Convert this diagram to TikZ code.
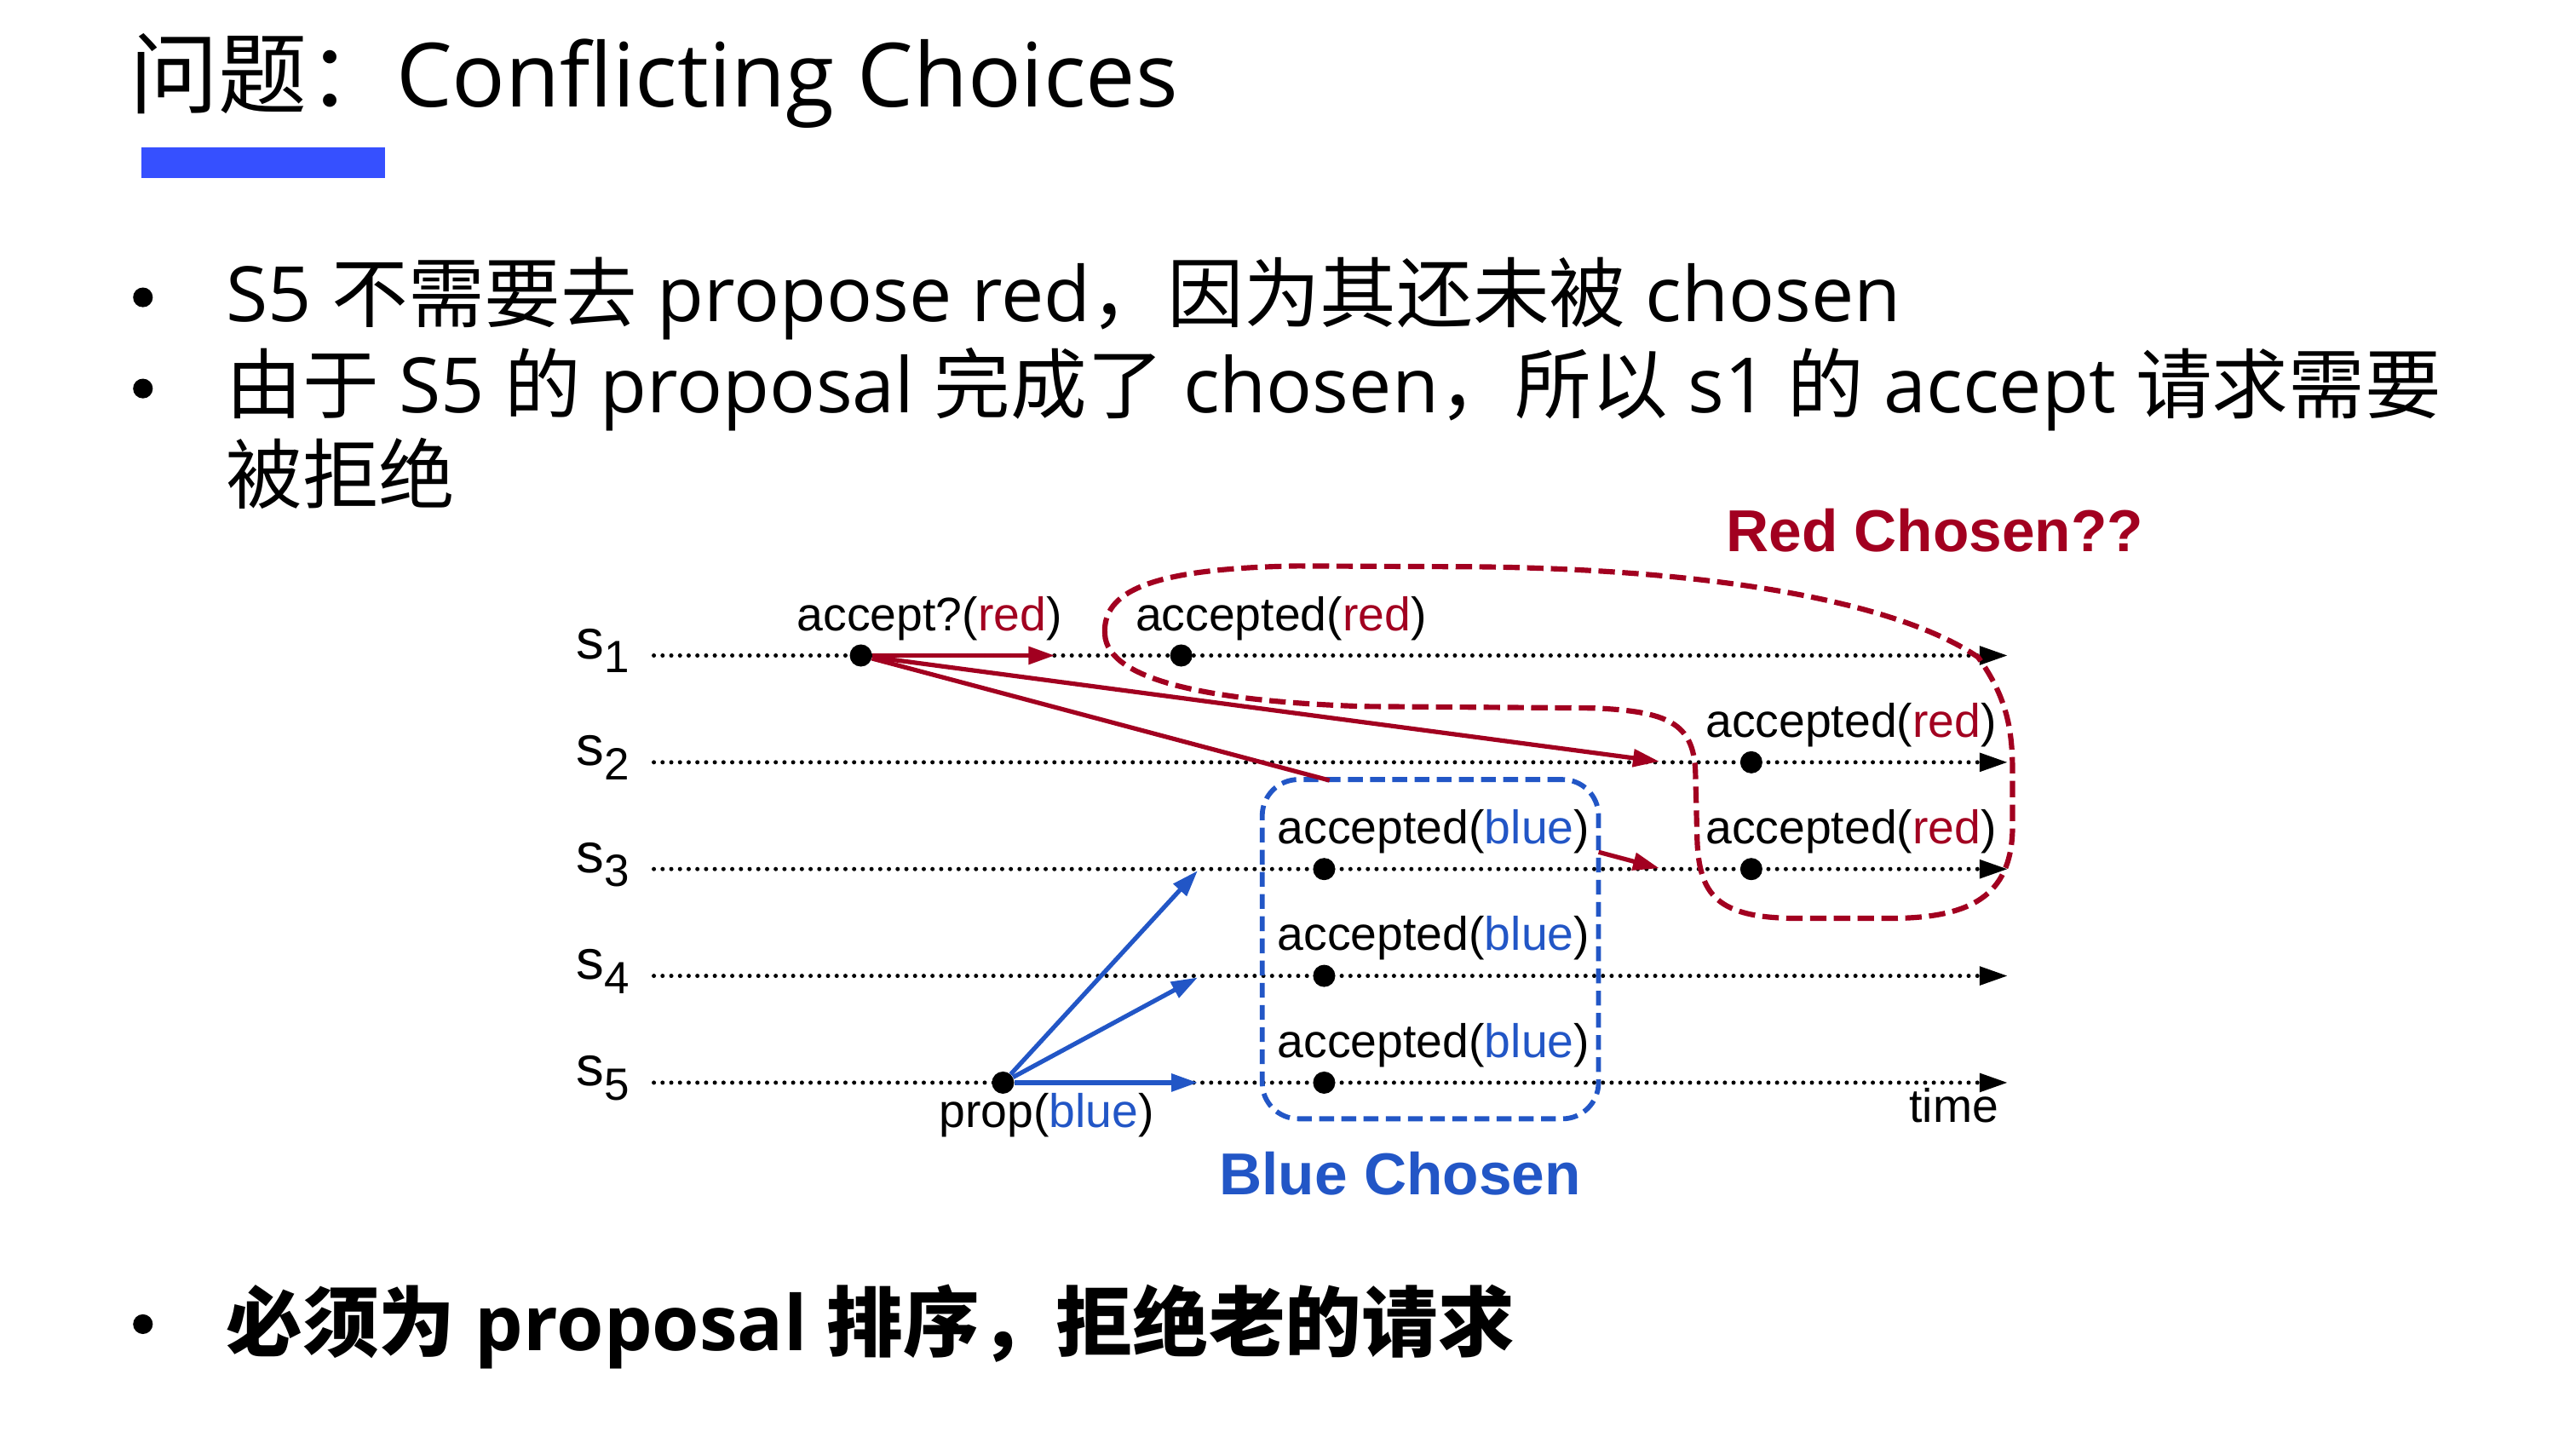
\documentclass[tikz,border=0pt]{standalone}
\usepackage{fontspec}
\setmainfont{Open Sans}
\newfontfamily\cjk{Noto Sans CJK SC}
\newfontfamily\arial{Liberation Sans}
\usetikzlibrary{arrows.meta,calc}

\definecolor{redc}{RGB}{162,0,32}
\definecolor{bluec}{RGB}{34,86,198}
\definecolor{barblue}{RGB}{54,80,255}

\tikzset{
  heading/.style={anchor=base west, inner sep=0pt, font={\fontsize{54}{64}\selectfont}},
  body/.style={anchor=base west, inner sep=0pt, font={\fontsize{46.5}{55}\selectfont}},
  bodybold/.style={body, font={\fontsize{46.5}{55}\selectfont\bfseries}},
  bulletdot/.style={circle, fill=black, inner sep=0pt, minimum size=12pt},
  lbl/.style={anchor=base west, inner sep=0pt, font={\arial\fontsize{28.7}{34}\selectfont}},
  slabel/.style={anchor=base west, inner sep=0pt, font={\arial\fontsize{34}{40}\selectfont}},
  chosen/.style={anchor=base west, inner sep=0pt, font={\arial\bfseries\fontsize{36}{42}\selectfont}},
  timeline/.style={line width=2.6pt, line cap=round, dash pattern=on 0pt off 5.3pt,
    -{Triangle[length=17pt,width=11pt]}},
  evt/.style={circle, fill=black, inner sep=0pt, minimum size=13.5pt},
  redline/.style={redc, line width=2.7pt},
  redarrow/.style={redline, -{Triangle[length=16pt,width=10.5pt]}},
  bluearrow/.style={bluec, line width=2.7pt, -{Triangle[length=16pt,width=10.5pt]}},
  redzone/.style={redc, line width=3.2pt, dash pattern=on 10pt off 4.5pt},
  bluezone/.style={draw=bluec, line width=3pt, dash pattern=on 9pt off 4.5pt,
    rounded corners=22pt, inner sep=0pt},
}

\begin{document}
\begin{tikzpicture}[x=1pt,y=-1pt]
\useasboundingbox (0,0) rectangle (1568,882);
\fill[white] (0,0) rectangle (1568,882);

% heading and accent bar
\node[heading] (title) at (79,65) {{\cjk 问题：}Conflicting Choices};
\node[fill=barblue, inner sep=0pt, minimum width=148pt, minimum height=18.5pt,
      anchor=north west] (bar) at (86,89.5) {};

% bullet list
\node[bulletdot] (b1) at (87,181) {};
\node[body] (t1) at (137.5,196) {S5 {\cjk 不需要去} propose red{\cjk ，因为其还未被} chosen};
\node[bulletdot] (b2) at (87,236.5) {};
\node[body] (t2) at (137.5,251) {{\cjk 由于} S5 {\cjk 的} proposal {\cjk 完成了} chosen{\cjk ，所以} s1 {\cjk 的} accept {\cjk 请求需要}};
\node[body] (t3) at (137.5,306) {{\cjk 被拒绝}};
\node[bulletdot] (b3) at (87,806) {};
\node[bodybold] (t4) at (137.5,822) {{\cjk 必须为} proposal {\cjk 排序，拒绝老的请求}};

% server time lines
\foreach \i/\y in {1/399,2/464,3/529,4/594,5/659} {
  \coordinate (L\i) at (398,\y);
  \coordinate (R\i) at (1222,\y);
  \node[slabel] (s\i) at (350.5,\y+2) {s\raisebox{-8.6pt}{\fontsize{27.5}{30}\selectfont\i}};
  \draw[timeline] (L\i) -- (R\i);
}

% "red chosen" region
\draw[redzone] (672.5,386)
  .. controls (671,360) and (700,346) .. (790,344.5)
  -- (900,345)
  .. controls (1060,347) and (1160,370) .. (1204,400)
  .. controls (1222,425) and (1225,445) .. (1225,470)
  -- (1225,505)
  .. controls (1224,545) and (1200,559) .. (1150,559)
  -- (1095,559)
  .. controls (1045,559) and (1034,545) .. (1033,510)
  -- (1032,470)
  .. controls (1031,440) and (1015,433) .. (970,431)
  -- (830,430)
  .. controls (740,427) and (674,415) .. (672.5,386) -- cycle;

% "blue chosen" region
\node[bluezone, minimum width=204.7pt, minimum height=206.5pt] (bbox) at (870.65,577.75) {};

% events
\node[evt] (d1a) at (524,399) {};
\node[evt] (d1b) at (719,399) {};
\node[evt] (d2) at (1066,464) {};
\node[evt] (d3b) at (806,529) {};
\node[evt] (d3r) at (1066,529) {};
\node[evt] (d4) at (806,594) {};
\node[evt] (d5b) at (806,659) {};
\node[evt] (p5) at (610.5,659) {};

% accept requests for red from s1
\coordinate (rt1) at (642,399);
\coordinate (rt2) at (1010,463.5);
\coordinate (rt3) at (1010,528.5);
\draw[redarrow] (d1a) -- (rt1);
\draw[redarrow] (d1a) -- (rt2);
\draw[redline] (d1a) -- ($(d1a)!0.587!(rt3)$);
\draw[redarrow] ($(d1a)!0.924!(rt3)$) -- (rt3);

% proposal of blue from s5
\coordinate (bt3) at (729,530);
\coordinate (bt4) at (729,595);
\coordinate (bt5) at (729,659);
\draw[bluearrow] (p5) -- (bt3);
\draw[bluearrow] (p5) -- (bt4);
\draw[bluearrow] (p5) -- (bt5);

% event labels
\node[lbl] (la1) at (485,384) {accept?(\textcolor{redc}{red})};
\node[lbl] (la2) at (691,384) {accepted(\textcolor{redc}{red})};
\node[lbl] (la3) at (1038,449) {accepted(\textcolor{redc}{red})};
\node[lbl] (la4) at (777.5,513.5) {accepted(\textcolor{bluec}{blue})};
\node[lbl] (la5) at (1038,513.5) {accepted(\textcolor{redc}{red})};
\node[lbl] (la6) at (777.5,578.5) {accepted(\textcolor{bluec}{blue})};
\node[lbl] (la7) at (777.5,643.5) {accepted(\textcolor{bluec}{blue})};
\node[lbl] (la8) at (571.5,686) {prop(\textcolor{bluec}{blue})};
\node[lbl] (la9) at (1162,683) {time};

% region captions
\node[chosen, text=redc] (redcap) at (1050.5,336) {Red Chosen??};
\node[chosen, text=bluec] (bluecap) at (742,727) {Blue Chosen};
\end{tikzpicture}
\end{document}
